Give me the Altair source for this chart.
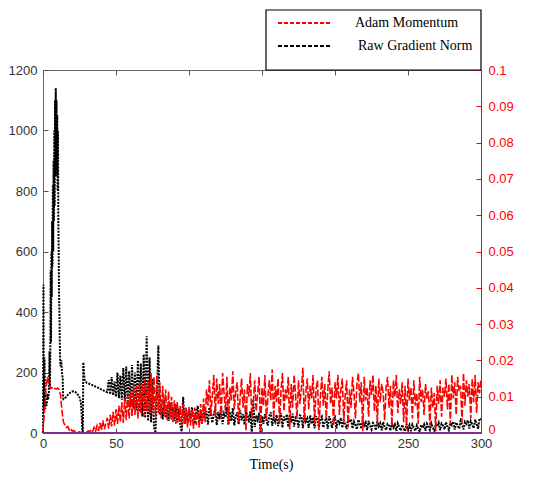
import altair as alt
import pandas as pd

# ---------------- data ----------------
x_ticks = [0, 50, 100, 150, 200, 250, 300]
yl_ticks = [0, 200, 400, 600, 800, 1000, 1200]
yr_ticks = [0, 0.01, 0.02, 0.03, 0.04, 0.05, 0.06, 0.07, 0.08, 0.09, 0.1]
legend_labels = ["Adam Momentum", "Raw Gradient Norm"]

# Raw gradient norm, early part (irregular time steps)
black_t_early = [0, 0.3, 0.6, 1.0, 1.5, 2, 2.5, 3, 3.5, 4,
                 4.5, 4.75, 5.0, 5.25, 5.5, 5.75, 6.0, 6.25, 6.5, 6.75,
                 7.0, 7.25, 7.5, 7.75, 8.0, 8.25, 8.5, 8.75, 9.0, 9.25,
                 9.5, 9.75, 10.0, 10.25, 10.5, 10.75, 11.0, 11.25, 11.5, 11.75,
                 12, 12.5, 13, 13.5, 13.75, 14, 15, 16, 17, 18,
                 19, 20, 21, 22, 23, 24, 25, 26, 26.5, 27,
                 27.3, 27.6, 28, 28.5, 29]
black_v_early = [0, 490, 90, 250, 80, 100, 90, 130, 110, 130,
                 270, 150, 270, 540, 300, 600, 450, 700, 550, 820,
                 600, 900, 700, 1000, 750, 1100, 850, 1140, 900, 1100,
                 850, 1050, 800, 1000, 700, 600, 450, 400, 300, 240,
                 220, 240, 200, 180, 120, 112, 115, 120, 126, 131,
                 135, 137, 138, 136, 132, 126, 118, 100, 60, 0,
                 0, 234, 200, 176, 170]

# Raw gradient norm, t = 30 ... 300 (1 s steps)
black_v_main = [
    166, 164, 162, 160, 158, 156, 153, 151, 149, 146,
    144, 142, 139, 137, 135, 175, 128, 185, 125, 170,
    120, 200, 115, 190, 110, 215, 105, 220, 95, 205,
    85, 225, 80, 200, 75, 240, 70, 230, 55, 260,
    50, 320, 40, 250, 35, 180, 20, 0, 120, 290,
    60, 95, 45, 110, 50, 90, 40, 100, 45, 85,
    40, 95, 35, 80, 30, 0, 120, 30, 80, 35,
    75, 40, 85, 55, 30, 70, 90, 38, 60, 32,
    80, 48, 72, 28, 85, 60, 34, 66, 78, 26,
    70, 45, 88, 29, 64, 52, 86, 27, 70, 40,
    82, 25, 55, 68, 29, 75, 42, 62, 28, 70,
    60, 35, 72, 0, 110, 20, 58, 44, 66, 0,
    55, 30, 62, 45, 25, 56, 68, 24, 52, 38,
    60, 23, 48, 66, 18, 54, 40, 62, 20, 57,
    35, 64, 21, 50, 44, 18, 58, 55, 16, 62,
    38, 48, 17, 58, 30, 52, 15, 56, 42, 19,
    46, 54, 18, 36, 50, 14, 55, 40, 17, 45,
    52, 15, 44, 33, 50, 17, 42, 28, 13, 48,
    35, 46, 15, 38, 26, 12, 44, 30, 14, 42,
    25, 35, 10, 40, 24, 12, 33, 28, 9, 38,
    22, 32, 9, 36, 20, 10, 30, 25, 8, 34,
    18, 28, 7, 32, 20, 8, 27, 15, 6, 30,
    12, 26, 6, 28, 18, 7, 25, 14, 5, 27,
    16, 28, 7, 30, 20, 10, 32, 18, 8, 29,
    22, 34, 9, 31, 24, 12, 36, 22, 10, 33,
    26, 38, 11, 35, 24, 14, 40, 28, 12, 37,
    30, 42, 15, 39, 28, 16, 44, 30, 14, 48,
    45,
]

# Adam momentum, t = 0 ... 300 (1 s steps), in units of 0.001
red_v_milli = [
    0.5, 6, 12, 15.5, 13.5, 12.2, 12.5, 12.0, 12.3, 12.1,
    12.4, 12.0, 10.5, 6, 3, 2.2, 1.5, 1.8, 0.8, 1.2,
    0.5, 0.7, 0.3, 0.5, 0.2, 0.3, 0.1, 0.2, 0.1, 0.3,
    0.2, 0.6, 0.3, 1.0, 0.4, 1.5, 0.5, 2.0, 0.6, 2.8,
    0.8, 3.5, 1.0, 2.5, 4.2, 1.2, 5.0, 1.8, 5.8, 2.0,
    6.5, 2.5, 7.5, 3.0, 8.5, 2.8, 9.5, 3.5, 10.5, 4.0,
    11.5, 4.5, 12.5, 5.0, 13.0, 4.0, 14.0, 5.5, 13.5, 4.5,
    15.0, 6.0, 14.5, 5.0, 16.5, 6.5, 15.5, 4.5, 16.0, 5.5,
    14.0, 4.0, 13.0, 5.0, 12.0, 3.5, 11.5, 4.0, 10.0, 3.0,
    9.0, 2.5, 8.5, 3.0, 7.5, 2.0, 8.0, 2.5, 7.0, 1.5,
    7.2, 2.0, 6.5, 1.2, 7.0, 2.2, 6.0, 1.5, 8.0, 2.5,
    9.5, 3.0, 12.0, 7.5, 14.5, 5.0, 10.5, 16.0, 4.5, 15.0,
    8.0, 13.5, 4.0, 16.5, 11.0, 6.0, 15.5, 2.5, 12.5, 9.0,
    17.0, 6.5, 11.5, 14.0, 3.0, 9.5, 15.0, 7.0, 12.0, 0.5,
    13.5, 10.0, 16.5, 4.0, 8.5, 14.5, 6.0, 11.0, 15.5, 0.3,
    12.5, 7.5, 16.0, 3.5, 10.0, 14.5, 9.0, 17.5, 4.0, 13.0,
    8.5, 15.0, 2.5, 11.5, 16.5, 6.0, 12.0, 9.5, 15.5, 1.0,
    13.5, 7.0, 16.0, 10.5, 4.0, 14.5, 8.0, 12.5, 18.0, 3.0,
    11.0, 15.0, 6.5, 13.0, 9.5, 16.0, 2.5, 12.0, 14.5, 0.8,
    10.0, 15.5, 7.5, 13.5, 4.0, 11.5, 17.0, 8.0, 12.5, 2.0,
    14.0, 9.5, 16.0, 5.0, 12.0, 15.0, 3.0, 10.5, 14.5, 1.5,
    12.0, 7.0, 15.5, 11.0, 4.0, 13.5, 16.5, 8.5, 14.0, 0.5,
    15.5, 9.0, 12.5, 4.5, 14.5, 10.5, 16.0, 6.0, 13.0, 2.5,
    15.0, 8.5, 13.5, 11.0, 3.5, 12.5, 15.5, 7.0, 13.0, 2.0,
    14.5, 10.0, 16.0, 5.5, 12.0, 8.0, 14.0, 3.0, 13.0, 1.0,
    15.0, 9.0, 12.5, 4.0, 14.5, 7.5, 11.0, 2.5, 15.5, 8.5,
    12.0, 5.0, 13.5, 9.5, 11.5, 2.0, 12.5, 7.0, 11.0, 0.5,
    13.0, 8.0, 14.5, 4.5, 12.5, 10.0, 15.0, 6.5, 13.5, 2.5,
    16.0, 9.5, 14.0, 5.0, 15.5, 11.5, 13.0, 3.0, 16.5, 7.5,
    14.5, 10.0, 13.5, 4.0, 15.0, 8.5, 16.0, 5.5, 14.0, 11.0,
    15.0,
]

purple_t = [0, 300]
purple_v = [0, 0]

# ---------------- tables ----------------
df_black = pd.DataFrame({
    "t": black_t_early + list(range(30, 301)),
    "v": black_v_early + black_v_main,
})
df_red = pd.DataFrame({
    "t": list(range(301)),
    "v": [m / 1000 for m in red_v_milli],
})
df_purple = pd.DataFrame({"t": purple_t, "v": purple_v})
df_rticks = pd.DataFrame({"v": yr_ticks})

SANS = "Liberation Sans"
SERIF = "Liberation Serif"
GREY = "#333333"

x_scale = alt.Scale(domain=[0, 300], nice=False)
yl_scale = alt.Scale(domain=[0, 1200], nice=False)
yr_scale = alt.Scale(domain=[0, 0.1], nice=False)

black = alt.Chart(df_black).mark_line(
    color="black", strokeWidth=2, strokeDash=[2, 1.2]
).encode(
    x=alt.X("t:Q", scale=x_scale, axis=alt.Axis(
        orient="bottom", values=x_ticks, title="Time(s)", ticks=False, domain=False,
        grid=False, labelPadding=4, labelFlush=False, labelFont=SANS, labelFontSize=13,
        labelColor=GREY,
        titleFont=SERIF, titleFontSize=14, titleFontWeight="normal", titleColor="black",
        titleX=228, titleY=35, titleBaseline="alphabetic", titleAlign="center")),
    y=alt.Y("v:Q", scale=yl_scale, axis=alt.Axis(
        orient="left", values=yl_ticks, title=None, ticks=False, domain=False, grid=False,
        labelPadding=6, labelFlush=False, format="d", labelFont=SANS, labelFontSize=13,
        labelColor=GREY)),
)

red = alt.Chart(df_red).mark_line(
    color="#ff0000", strokeWidth=1.6, strokeDash=[7, 2]
).encode(
    x=alt.X("t:Q", scale=x_scale, axis=alt.Axis(
        orient="top", values=x_ticks, title=None, labels=False, domain=False, grid=False,
        ticks=True, tickSize=5, offset=-5, tickColor="#555555")),
    y=alt.Y("v:Q", scale=yr_scale, axis=alt.Axis(
        orient="right", values=yr_ticks, title=None, ticks=False, domain=True,
        domainColor="#ff0000", grid=False, labelPadding=7, labelFlush=False, format=".2~f",
        labelOffset={"condition": {"test": "datum.value === 0", "value": -4}, "value": 0},
        labelFont=SANS, labelFontSize=13, labelColor="#ff0000")),
)

purple = alt.Chart(df_purple).mark_line(color="#7E2F8E", strokeWidth=2).encode(
    x=alt.X("t:Q", scale=x_scale, axis=alt.Axis(
        orient="bottom", values=x_ticks, title=None, labels=False, domain=False, grid=False,
        ticks=True, tickSize=5, offset=-5, tickColor="#555555")),
    y=alt.Y("v:Q", scale=yl_scale, axis=alt.Axis(
        orient="left", values=yl_ticks, title=None, labels=False, domain=False, grid=False,
        ticks=True, tickSize=5, offset=-5, tickColor="#555555")),
)

rticks = alt.Chart(df_rticks).mark_point(opacity=0).encode(
    y=alt.Y("v:Q", scale=yr_scale, axis=alt.Axis(
        orient="right", values=yr_ticks, title=None, labels=False, domain=False, grid=False,
        ticks=True, tickSize=5, offset=-5, tickColor="#ff0000")),
)

# ---------------- legend ----------------
leg_df0 = pd.DataFrame({"label": [legend_labels[0]]})
leg_df1 = pd.DataFrame({"label": [legend_labels[1]]})

leg_box = alt.Chart(leg_df0).mark_rect(fill="white", stroke="black", strokeWidth=1.2).encode(
    x=alt.value(223), x2=alt.value(438), y=alt.value(-60), y2=alt.value(0)
)
leg_r0 = alt.Chart(leg_df0).mark_rule(color="#ff0000", strokeWidth=2, strokeDash=[4, 2]).encode(
    x=alt.value(235), x2=alt.value(288), y=alt.value(-47)
)
leg_r1 = alt.Chart(leg_df1).mark_rule(color="black", strokeWidth=2, strokeDash=[4, 2]).encode(
    x=alt.value(235), x2=alt.value(288), y=alt.value(-24)
)
leg_t0 = alt.Chart(leg_df0).mark_text(
    align="left", baseline="middle", font=SERIF, fontSize=14, color="black"
).encode(x=alt.value(312), y=alt.value(-47), text="label:N")
leg_t1 = alt.Chart(leg_df1).mark_text(
    align="left", baseline="middle", font=SERIF, fontSize=14, color="black"
).encode(x=alt.value(315), y=alt.value(-24), text="label:N")

chart = alt.layer(
    black, red, purple, rticks, leg_box, leg_r0, leg_r1, leg_t0, leg_t1
).resolve_scale(
    y="independent"
).resolve_axis(
    x="independent", y="independent"
).properties(
    width=438, height=363,
    padding={"left": 35, "top": 62, "right": 61, "bottom": 40},
    autosize=alt.AutoSizeParams(type="none"),
    background="white",
).configure_view(
    stroke="#666666", strokeWidth=1
)

chart.save("out.html", embed_options={"renderer": "svg", "actions": False})
